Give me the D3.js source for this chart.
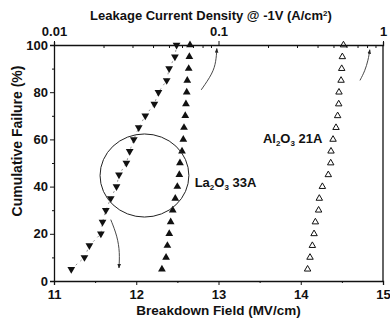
<!DOCTYPE html>
<html>
<head>
<meta charset="utf-8">
<script src="https://cdn.jsdelivr.net/npm/d3@7"></script>
<style>
  body { margin: 0; background: #fff; }
  text { font-family: "Liberation Sans", Arial, sans-serif; font-weight: bold; fill: #111; }
</style>
</head>
<body>
<svg></svg>
<script>
// cumulative failure levels (%)
var failure = [5, 10, 15, 20, 25, 30, 35, 40, 45, 50, 55, 60, 65, 70, 75, 80, 85, 90, 95, 100];
// La2O3 33A breakdown field (MV/cm), bottom axis
var la2o3Field = [11.21, 11.37, 11.43, 11.57, 11.59, 11.63, 11.69, 11.76, 11.79, 11.88,
                  11.92, 11.97, 12.03, 12.11, 12.22, 12.27, 12.37, 12.40, 12.47, 12.49];
// La2O3 33A leakage current density (A/cm2), top axis
var la2o3Leak = [0.0453, 0.0480, 0.0489, 0.0502, 0.0512, 0.0527, 0.0546, 0.0562, 0.0578, 0.0583,
                 0.0600, 0.0611, 0.0617, 0.0628, 0.0634, 0.0641, 0.0646, 0.0659, 0.0665, 0.0671];
// Al2O3 21A leakage current density (A/cm2), top axis
var al2o3Leak = [0.348, 0.360, 0.372, 0.381, 0.388, 0.406, 0.410, 0.428, 0.465, 0.481,
                 0.483, 0.497, 0.518, 0.530, 0.538, 0.540, 0.556, 0.561, 0.566, 0.575];

var bottomTicks = [11, 12, 13, 14, 15];
var topTicks = [0.01, 0.1, 1];
var topTickLabels = ["0.01", "0.1", "1"];
var yTicks = [0, 20, 40, 60, 80, 100];

// annotation: circle around La2O3 data (field units, %), and arrows
var ringCenter = [12.1, 44.7], ringRadius = [0.54, 17.6];
var arrowDown = [[11.69, 26], [11.77, 19], [11.8, 12], [11.79, 5.5]];
var arrowTopMid = [[12.79, 81], [12.93, 88], [12.97, 93], [12.98, 98.5]];
var arrowTopRight = [[14.72, 85], [14.78, 89], [14.82, 93.6], [14.84, 98]];

var svgWidth = 390, svgHeight = 327;
var margin = { top: 45, right: 7, bottom: 46, left: 54 };
var fs = "13px";

var svg = d3.select("svg").attr("width", svgWidth).attr("height", svgHeight);
svg.append("rect").attr("width", "100%").attr("height", "100%").attr("fill", "white");

var x = d3.scaleLinear().domain([11, 15]).range([margin.left, svgWidth - margin.right]);
var xTop = d3.scaleLog().domain([0.01, 1]).range([margin.left, svgWidth - margin.right]);
var y = d3.scaleLinear().domain([0, 100]).range([svgHeight - margin.bottom, margin.top]);

// bottom axis
var bAxis = svg.append("g")
    .attr("transform", "translate(0," + y(0) + ")")
    .call(d3.axisBottom(x).tickValues(d3.range(11, 15.01, 0.5)).tickSize(4).tickFormat(function (d) {
        return bottomTicks.indexOf(d) >= 0 ? d : "";
    }));
bAxis.selectAll("text").attr("font-size", fs).attr("y", 18).attr("dy", 0);
bAxis.selectAll(".tick line").attr("y2", function (d) { return d % 1 === 0 ? 4 : 2; });

// left axis
var lAxis = svg.append("g")
    .attr("transform", "translate(" + margin.left + ",0)")
    .call(d3.axisLeft(y).tickValues(d3.range(0, 101, 10)).tickSize(4).tickFormat(function (d) {
        return yTicks.indexOf(d) >= 0 ? d : "";
    }));
lAxis.selectAll("text").attr("font-size", fs).attr("x", -6);
lAxis.selectAll(".tick line").attr("x2", function (d) { return d % 20 === 0 ? -4 : -2; });

// top axis (log)
var minorTop = [];
[0.01, 0.1].forEach(function (dec) {
    for (var k = 1; k < 10; k++) minorTop.push(dec * k);
});
minorTop.push(1);
var tAxis = svg.append("g")
    .attr("transform", "translate(0," + y(100) + ")")
    .call(d3.axisTop(xTop).tickValues(minorTop).tickSize(3).tickFormat(function (d) {
        var i = topTicks.findIndex(function (t) { return Math.abs(t - d) < 1e-9; });
        return i >= 0 ? topTickLabels[i] : "";
    }));
tAxis.selectAll("text").attr("font-size", fs).attr("y", -9);
tAxis.selectAll(".tick line").attr("y2", function (d) {
    return topTicks.some(function (t) { return Math.abs(t - d) < 1e-9; }) ? -4 : 3;
});

// right frame
svg.append("line")
    .attr("x1", x(15)).attr("x2", x(15)).attr("y1", y(0)).attr("y2", y(100))
    .attr("stroke", "#111").attr("stroke-width", 1.3);

svg.selectAll(".domain").attr("stroke", "#111").attr("stroke-width", 1.3);
svg.selectAll(".tick line").attr("stroke", "#111");

// faint guide line through the breakdown points
var lineField = d3.line().x(function (d) { return x(d[0]); }).y(function (d) { return y(d[1]); });
svg.append("path").datum(d3.zip(la2o3Field, failure)).attr("d", lineField)
    .attr("fill", "none").attr("stroke", "#666").attr("stroke-width", 0.7).attr("stroke-dasharray", "2,4");

var triDown = d3.symbol().type(d3.symbolTriangle).size(26);

svg.append("g").selectAll("path").data(d3.zip(la2o3Field, failure)).join("path")
    .attr("d", triDown)
    .attr("transform", function (d) { return "translate(" + x(d[0]) + "," + y(d[1]) + ") rotate(180)"; })
    .attr("fill", "#111");

svg.append("g").selectAll("path").data(d3.zip(la2o3Leak, failure)).join("path")
    .attr("d", triDown)
    .attr("transform", function (d) { return "translate(" + xTop(d[0]) + "," + y(d[1]) + ")"; })
    .attr("fill", "#111");

svg.append("g").selectAll("path").data(d3.zip(al2o3Leak, failure)).join("path")
    .attr("d", d3.symbol().type(d3.symbolTriangle).size(18))
    .attr("transform", function (d) { return "translate(" + xTop(d[0]) + "," + y(d[1]) + ")"; })
    .attr("fill", "none").attr("stroke", "#111").attr("stroke-width", 1);

// circle annotation
svg.append("ellipse")
    .attr("cx", x(ringCenter[0])).attr("cy", y(ringCenter[1]))
    .attr("rx", x(ringCenter[0] + ringRadius[0]) - x(ringCenter[0]))
    .attr("ry", y(ringCenter[1]) - y(ringCenter[1] + ringRadius[1]))
    .attr("fill", "none").attr("stroke", "#222").attr("stroke-width", 1);

svg.append("defs").append("marker")
    .attr("id", "head").attr("viewBox", "0 0 10 10").attr("refX", 9).attr("refY", 5)
    .attr("markerWidth", 5).attr("markerHeight", 5).attr("orient", "auto")
    .append("path").attr("d", "M0,1 L10,5 L0,9 Z").attr("fill", "#222");

var curve = d3.line().curve(d3.curveBasis).x(function (d) { return x(d[0]); }).y(function (d) { return y(d[1]); });
[arrowDown, arrowTopMid, arrowTopRight].forEach(function (a) {
    svg.append("path").datum(a).attr("d", curve)
        .attr("fill", "none").attr("stroke", "#333").attr("stroke-width", 0.9)
        .attr("marker-end", "url(#head)");
});

// labels
function subLabel(px, py, parts) {
    var t = svg.append("text").attr("x", px).attr("y", py).attr("font-size", fs);
    parts.forEach(function (p) {
        var s = t.append("tspan").text(p[0]);
        if (p[1]) s.attr("font-size", "8px").attr("dy", "3");
        else if (p[2]) s.attr("dy", "-3");
    });
}
subLabel(x(12.71), y(40), [["La"], ["2", true], ["O", false, true], ["3", true], [" 33A", false, true]]);
subLabel(x(13.54), y(58.5), [["Al"], ["2", true], ["O", false, true], ["3", true], [" 21A", false, true]]);

svg.append("text")
    .attr("x", x(13)).attr("y", 315).attr("text-anchor", "middle").attr("font-size", "13.5px")
    .text("Breakdown Field (MV/cm)");

var tt = svg.append("text")
    .attr("x", 211).attr("y", 20).attr("text-anchor", "middle").attr("font-size", fs)
    .text("Leakage Current Density @ -1V (A/cm");
tt.append("tspan").attr("font-size", "8px").attr("dy", "-4").text("2");
tt.append("tspan").attr("dy", "4").text(")");

svg.append("text")
    .attr("transform", "translate(22,141) rotate(-90)")
    .attr("text-anchor", "middle").attr("font-size", "14px")
    .text("Cumulative Failure (%)");
</script>
</body>
</html>
